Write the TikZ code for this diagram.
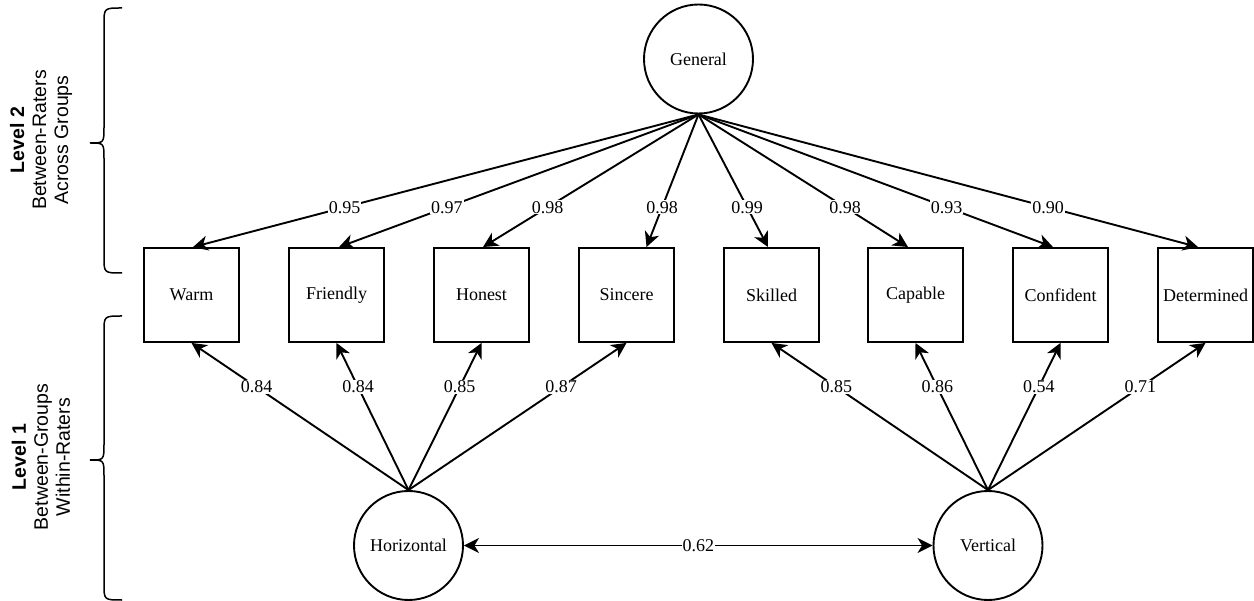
\documentclass[tikz,border=0pt]{standalone}
\usepackage{fontspec}
\setmainfont{Liberation Serif}
\setsansfont{Liberation Sans}
\usetikzlibrary{arrows.meta,calc}
\begin{document}
\begin{tikzpicture}[x=1pt,y=-1pt,
 every node/.style={font=\fontsize{18}{20}\selectfont},
 obs/.style={draw, line width=1.9pt, minimum width=95pt, minimum height=94pt, inner sep=0pt},
 lat/.style={draw, circle, line width=1.9pt, minimum size=109pt, inner sep=0pt},
 load/.style={line width=1.9pt, -{Stealth[length=15pt,width=15pt,inset=4.5pt]}},
 lab/.style={fill=white, inner sep=1pt, pos=0.7},
 bracestyle/.style={line width=1.5pt},
 side/.style={rotate=90, align=center, font=\sffamily\fontsize{19.5}{22}\selectfont}]
\useasboundingbox (0,0) rectangle (1254,601);

% latent variables
\node[lat] (G) at (698.5,59) {General};
\node[lat] (H) at (408.5,545.5) {Horizontal};
\node[lat] (V) at (988,545.5) {Vertical};

% observed variables
\node[obs] (w)  at (191.5,295) {Warm};
\node[obs] (fr) at (336.5,295) {Friendly};
\node[obs] (ho) at (481.5,295) {Honest};
\node[obs] (si) at (626.5,295) {Sincere};
\node[obs] (sk) at (771.5,295) {Skilled};
\node[obs] (ca) at (915.5,295) {Capable};
\node[obs] (co) at (1060.5,295) {Confident};
\node[obs] (de) at (1205.5,295) {Determined};

% general loadings
\draw[load] (G.south) -- node[lab]{0.95} ($(w.north)+(1.5,0)$);
\draw[load] (G.south) -- node[lab]{0.97} ($(fr.north)+(2.5,0)$);
\draw[load] (G.south) -- node[lab]{0.98} ($(ho.north)+(1.5,0)$);
\draw[load] (G.south) -- node[lab]{0.98} ($(si.north)+(20,0)$);
\draw[load] (G.south) -- node[lab]{0.99} ($(sk.north)+(-3.5,0)$);
\draw[load] (G.south) -- node[lab]{0.98} ($(ca.north)+(-7.5,0)$);
\draw[load] (G.south) -- node[lab]{0.93} ($(co.north)+(-7.5,0)$);
\draw[load] (G.south) -- node[lab]{0.90} ($(de.north)+(-7.5,0)$);

% level 1 loadings
\draw[load] (H.north) -- node[lab]{0.84} (w.south);
\draw[load] (H.north) -- node[lab]{0.84} (fr.south);
\draw[load] (H.north) -- node[lab]{0.85} (ho.south);
\draw[load] (H.north) -- node[lab]{0.87} (si.south);
\draw[load] (V.north) -- node[lab]{0.85} (sk.south);
\draw[load] (V.north) -- node[lab]{0.86} (ca.south);
\draw[load] (V.north) -- node[lab]{0.54} (co.south);
\draw[load] (V.north) -- node[lab]{0.71} (de.south);

% correlation
\draw[line width=1.9pt, {Stealth[length=15pt,width=15pt,inset=4.5pt]}-{Stealth[length=15pt,width=15pt,inset=4.5pt]}]
  (H.east) -- node[fill=white, inner sep=1pt]{0.62} (V.west);

% braces
\draw[bracestyle] (122,8) .. controls (104,8) .. (104,24) -- (104,127)
  .. controls (104,143) .. (90,143) .. controls (104,143) .. (104,159)
  -- (104,257) .. controls (104,273) .. (122,273);
\draw[bracestyle] (122,316) .. controls (104,316) .. (104,332) -- (104,444)
  .. controls (104,460) .. (90,460) .. controls (104,460) .. (104,476)
  -- (104,584) .. controls (104,600) .. (122,600);

% side labels
\node[side] (L2) at (41,140) {\textbf{Level 2}\\Between-Raters\\Across Groups};
\node[side] (L1) at (41,457) {\textbf{Level 1}\\Between-Groups\\Within-Raters};
\end{tikzpicture}
\end{document}
